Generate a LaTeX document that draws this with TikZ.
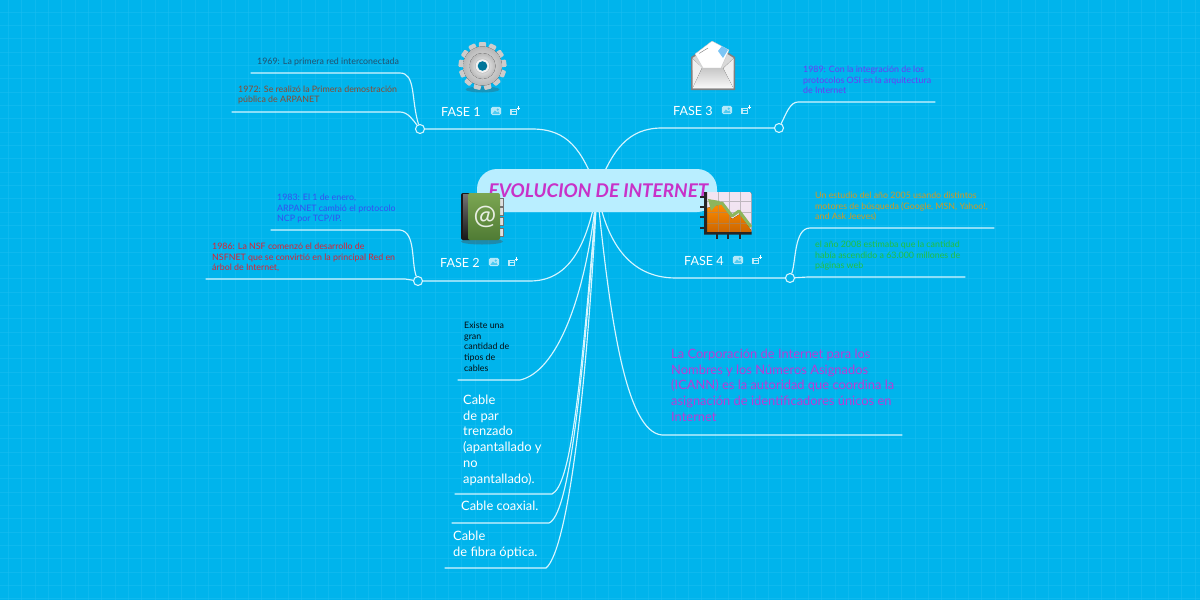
\documentclass[tikz,border=0pt]{standalone}
\usepackage{fontspec}
\setmainfont{Lato}
\usetikzlibrary{shadings,calc}
\definecolor{bgc}{HTML}{00B4EC}
\definecolor{gridc}{HTML}{1CBEF0}
\definecolor{linec}{HTML}{D6F5FF}
\definecolor{rootc}{HTML}{B9EEFF}
\definecolor{titlec}{HTML}{C832C8}
\definecolor{slatec}{HTML}{23506E}
\definecolor{brownc}{HTML}{8A4A30}
\definecolor{violetc}{HTML}{6A3CF5}
\definecolor{bluec}{HTML}{3550F0}
\definecolor{redc}{HTML}{DE2030}
\definecolor{orangec}{HTML}{D49A20}
\definecolor{greenc}{HTML}{22C040}
\definecolor{icannc}{HTML}{BA3CD4}
\definecolor{booktop}{HTML}{7CA652}
\definecolor{bookbot}{HTML}{4F7B34}
\definecolor{ridge}{HTML}{8DB55C}
\tikzset{
  conn/.style={draw=linec,line width=1.15pt,line cap=round},
  junction/.style={circle,draw=linec,fill=bgc,line width=1.1pt,minimum size=9pt,inner sep=0pt},
  rootbox/.style={fill=rootc,rounded corners=20pt,minimum width=240pt,minimum height=43pt,inner sep=0pt},
  small/.style={anchor=north west,inner sep=0pt,align=left,font=\fontsize{8.85}{10.6}\selectfont},
  large/.style={anchor=north west,inner sep=0pt,align=left,text=white,font=\fontsize{12.9}{15.8}\selectfont},
  phase/.style={anchor=west,inner sep=0pt,text=white,font=\fontsize{12.6}{15}\selectfont},
}
\newcommand{\imgicon}[1]{\begin{scope}[shift={(#1)},scale=1.15]
  \fill[rounded corners=1.5pt,fill=white,opacity=.7] (-4.5,-3.5) rectangle (4.5,3.5);
  \fill[bgc!70!white] (-3.2,2.5) -- (-1,-.5) -- (1,1.2) -- (2,.3) -- (3.2,2.5) -- cycle;
  \fill[bgc!70!white] (1.5,-1.2) circle (1);
\end{scope}}
\newcommand{\noteicon}[1]{\begin{scope}[shift={(#1)},scale=1.15]
  \fill[white,opacity=.75] (-4,-2) rectangle (2,3.5);
  \draw[bgc,line width=.5pt] (-3,-.4) -- (1,-.4) (-3,1) -- (1,1) (-3,2.3) -- (1,2.3);
  \draw[white,line width=.8pt] (3,-4) -- (3,-1) (1.5,-2.5) -- (4.5,-2.5);
\end{scope}}
\begin{document}
\begin{tikzpicture}[x=1pt,y=-1pt]
\useasboundingbox (0,0) rectangle (1200,600);
\fill[bgc] (0,0) rectangle (1200,600);
% grid
\foreach \i in {0,...,90} {\draw[gridc,line width=.7pt,opacity=.5] ({8.5+\i*13.33},0) -- ({8.5+\i*13.33},600);}
\foreach \i in {0,...,45} {\draw[gridc,line width=.7pt,opacity=.5] (0,{12+\i*13.33}) -- (1200,{12+\i*13.33});}
% junctions and free ends
\coordinate (hub) at (597,190);
\coordinate (e1a) at (251,73);
\coordinate (e1b) at (232,112);
\coordinate (e3a) at (935,102);
\coordinate (e2a) at (271,230);
\coordinate (e2b) at (206,279);
\coordinate (e4a) at (994,228);
\coordinate (e4b) at (965,277);
\coordinate (c1) at (458,380);
\coordinate (c2) at (455,494);
\coordinate (c3) at (452,523);
\coordinate (c4) at (445,568);
\coordinate (c5) at (902,435);
\node[junction] (j1) at (420,129) {};
\node[junction] (j3) at (779,128) {};
\node[junction] (j2) at (418,281) {};
\node[junction] (j4) at (790,278) {};
% main branches
\draw[conn] (j1.east) -- (532,129) .. controls (568,129) and (582,150) .. (hub);
\draw[conn] (j3.west) -- (662,128) .. controls (628,128) and (612,150) .. (hub);
\draw[conn] (j2.east) -- (530,281) .. controls (572,281) and (588,240) .. (hub);
\draw[conn] (j4.west) -- (676,278) .. controls (628,278) and (606,240) .. (hub);
\draw[conn] (c1) -- (520,380) .. controls (556,372) and (586,300) .. (hub);
\draw[conn] (c2) -- (552,494) .. controls (570,485) and (580,400) .. (hub);
\draw[conn] (c3) -- (549,523) .. controls (568,515) and (582,400) .. (hub);
\draw[conn] (c4) -- (546,568) .. controls (566,552) and (586,410) .. (hub);
\draw[conn] (c5) -- (662,435) .. controls (626,432) and (610,320) .. (hub);
% sub branches
\draw[conn] (e1a) -- (400,73) .. controls (416,73) and (411,100) .. (j1);
\draw[conn] (e1b) -- (400,112) .. controls (408,112) and (413,120) .. (j1);
\draw[conn] (j3) .. controls (786,114) and (790,102) .. (798,102) -- (e3a);
\draw[conn] (e2a) -- (400,230) .. controls (416,232) and (411,262) .. (j2);
\draw[conn] (e2b) -- (405,279) -- (j2);
\draw[conn] (j4) .. controls (796,262) and (794,228) .. (810,228) -- (e4a);
\draw[conn] (j4) -- (808,277) -- (e4b);
% root
\node[rootbox] (root) at (597,190.5) {};
\node[inner sep=0pt,text=titlec,font=\fontsize{18.9}{22}\bfseries\itshape\selectfont] (title) at (598.5,190.5) {EVOLUCION DE INTERNET};
% gear
\begin{scope}[shift={(482.5,66)}]
  \fill[black!70,opacity=.3] (0,23.5) ellipse (17 and 3);
  \foreach \a in {0,27.7,...,340} {
    \fill[rotate=\a,rounded corners=1pt,fill=black!20] (-3.6,-24) rectangle (3.6,-14);
  }
  \fill[inner color=black!8,outer color=black!28] (0,0) circle (19.5);
  \fill[inner color=white,outer color=black!28] (0,0) circle (13);
  \fill[black!25] (0,0) circle (7.5);
  \fill[white!95!black] (0,0) circle (6.8);
  \fill[fill=bgc!65!black] (0,0) circle (4.8);
\end{scope}
% envelope
\begin{scope}
  \fill[black!50] (691,57) -- (713,43) -- (735,57) -- (735,90) -- (691,90) -- cycle;
  \fill[black!15] (692.5,58) -- (713,45) -- (733.5,58) -- (733.5,70) -- (692.5,70) -- cycle;
  \fill[white,draw=black!25,line width=.3pt] (695,54) -- (712,41) -- (729,50) -- (721,68) -- (703,68) -- cycle;
  \draw[black!45,line width=.5pt] (699,53.5) -- (708,48);
  \fill[bluec!30!bgc!55!white] (718,51) -- (722,46) -- (728,50) -- (723,58) -- cycle;
  \fill[black!40] (692,58) -- (702,68) -- (723,68) -- (734,58) -- (734,70) -- (692,70) -- cycle;
  \fill[black!6] (692.5,59) -- (712,77) -- (692.5,88.5) -- cycle;
  \fill[black!6] (733.5,59) -- (714,77) -- (733.5,88.5) -- cycle;
  \fill[top color=black!22,bottom color=black!2] (702,68) -- (723,68) -- (733.5,88.5) -- (692.5,88.5) -- cycle;
\end{scope}
% book
\begin{scope}
  \fill[black!70,opacity=.4] (482,241.5) ellipse (21 and 3);
  \foreach \y in {198,207,217,228} {\fill[black!12,draw=black!55,line width=.3pt] (499,\y) rectangle (503.5,\y+8.5);}
  \fill[rounded corners=2pt,black!90] (461,193) rectangle (472,240);
  \fill[top color=black!55,bottom color=black!90] (463,194) rectangle (468,238);
  \shade[top color=booktop,bottom color=bookbot,rounded corners=2pt] (468,193) rectangle (500,240);
  \node[inner sep=0pt,text=white,opacity=.85,font=\fontsize{27}{27}\selectfont] (at) at (485,216.5) {@};
\end{scope}
% chart
\begin{scope}
  \fill[rounded corners=2pt,top color=white!90!violet,bottom color=violet!12] (705,192) rectangle (751.5,233);
  \fill[top color=orange!90!yellow,bottom color=orange!80!black] (707,208) -- (722,204) -- (732,219) -- (740,214) -- (751,230) -- (751,232) -- (707,232) -- cycle;
  \draw[black!45,opacity=.5,line width=.5pt] (718,192) -- (718,232) (729,192) -- (729,232) (740,192) -- (740,232) (707,201) -- (751,201) (707,212) -- (751,212) (707,223) -- (751,223);
  \draw[ridge,line width=3pt,line join=round] (712,205) -- (722,203) -- (732,216) -- (739,211) -- (751,227);
  \fill[ridge] (708,199) -- (720,201) -- (711,211) -- cycle;
  \fill[black!85] (704,192) rectangle (707,234.5) (704,232) rectangle (751.5,234.5);
  \foreach \y in {197,207,217,228} {\fill[black!85] (700,\y-1) rectangle (704,\y+1);}
  \foreach \x in {717,728,740} {\fill[black!85] (\x-1,234) rectangle (\x+1,238.5);}
\end{scope}
% phase labels
\node[phase] (f1) at (441,111.5) {FASE 1};
\node[phase] (f3) at (673,110.5) {FASE 3};
\node[phase] (f2) at (440,262.5) {FASE 2};
\node[phase] (f4) at (684,260.5) {FASE 4};
\imgicon{496,111}\noteicon{515,111}
\imgicon{727,110}\noteicon{746,110}
\imgicon{494,262}\noteicon{513,262}
\imgicon{738,260}\noteicon{757,260}
% small texts
\node[small,text=slatec] (t1) at (257,57.5) {1969: La primera red interconectada};
\node[small,text=brownc] (t2) at (238,85.5) {1972: Se realizó la Primera demostración\\pública de ARPANET};
\node[small,text=violetc] (t3) at (803,66) {1989: Con la integración de los\\protocolos OSI en la arquitectura\\de Internet};
\node[small,text=bluec] (t4) at (277,194) {1983: El 1 de enero,\\ARPANET cambió el protocolo\\NCP por TCP/IP.};
\node[small,text=redc] (t5) at (212,243) {1986: La NSF comenzó el desarrollo de\\NSFNET que se convirtió en la principal Red en\\árbol de Internet,};
\node[small,text=orangec] (t6) at (815,192) {Un estudio del año 2005 usando distintos\\motores de búsqueda (Google, MSN, Yahoo!,\\and Ask Jeeves)};
\node[small,text=greenc] (t7) at (815,241) {el año 2008 estimaba que la cantidad\\había ascendido a 63.000 millones de\\páginas web};
\node[small,text=black!85!slatec] (t8) at (464,322) {Existe una\\gran\\cantidad de\\tipos de\\cables};
% large texts
\node[large] (t9) at (463,394.5) {Cable\\de par\\trenzado\\(apantallado y\\no\\apantallado).};
\node[large] (t10) at (461,500.5) {Cable coaxial.};
\node[large] (t11) at (453,530.5) {Cable\\de fibra óptica.};
\node[large,text=icannc] (t12) at (671,348.5) {La Corporación de Internet para los\\Nombres y los Números Asignados\\(ICANN) es la autoridad que coordina la\\asignación de identificadores únicos en\\Internet};
\end{tikzpicture}
\end{document}
